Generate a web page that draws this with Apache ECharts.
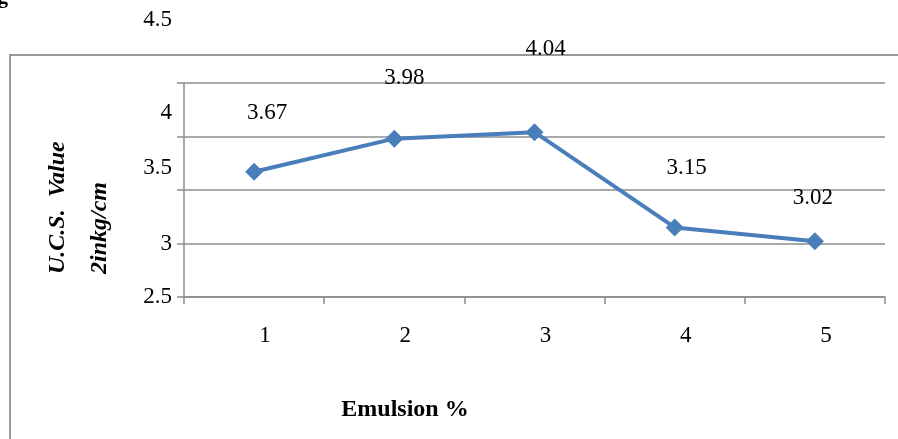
<!DOCTYPE html>
<html>
<head>
<meta charset="utf-8">
<script src="https://cdn.jsdelivr.net/npm/echarts@6/dist/echarts.min.js"></script>
<style>
  html, body { margin: 0; padding: 0; background: #fff; }
  #chart { width: 898px; height: 439px; }
</style>
</head>
<body>
<div id="chart"></div>
<script>
// Unconfined compressive strength against emulsion content
const emulsion = ['1', '2', '3', '4', '5'];
const ucsValues = [3.67, 3.98, 4.04, 3.15, 3.02];
const yTickLabels = ['2.5', '3', '3.5', '4', '4.5'];

// Label placement (styling only)
const labelOffsets = [[13, -33], [10, -35], [11, -58], [12, -34], [-2, -18]];
const tickLift = { '4.5': 126, '4': 48, '3.5': 44 };

const serif = '"Liberation Serif", "Times New Roman", serif';
const gray = '#8c8c8c';
const labelSize = 23;

const rich = {};
yTickLabels.forEach((t, i) => {
  rich['t' + i] = {
    fontFamily: serif, fontSize: labelSize, color: '#000',
    padding: [0, 0, tickLift[t] || 0, 0]
  };
});

const seriesData = ucsValues.map((v, i) => ({
  value: v,
  label: { offset: labelOffsets[i] }
}));

const chart = echarts.init(document.getElementById('chart'), null, { renderer: 'canvas' });
chart.setOption({
  animation: false,
  backgroundColor: '#fff',
  grid: { left: 184, right: 13, top: 83, bottom: 142, containLabel: false },
  xAxis: {
    type: 'category',
    data: emulsion,
    boundaryGap: true,
    axisLine: { lineStyle: { color: gray, width: 1.5 } },
    axisTick: { show: true, length: 7, lineStyle: { color: gray, width: 1.5 } },
    axisLabel: {
      fontFamily: serif, fontSize: labelSize, color: '#000', margin: 27,
      padding: [0, 0, 0, 22]
    },
    splitLine: { show: false }
  },
  yAxis: {
    type: 'value',
    min: 2.5, max: 4.5, interval: 0.5,
    axisLine: { show: true, lineStyle: { color: gray, width: 1.5 } },
    axisTick: { show: true, length: 7, lineStyle: { color: gray, width: 1.5 } },
    splitLine: { show: true, lineStyle: { color: gray, width: 1.5 } },
    axisLabel: {
      margin: 12,
      formatter: function (v) {
        const s = String(+v.toFixed(1));
        const i = yTickLabels.indexOf(s);
        return '{t' + i + '|' + s + '}';
      },
      rich: rich
    }
  },
  series: [{
    type: 'line',
    data: seriesData,
    symbol: 'diamond',
    symbolSize: 18,
    itemStyle: { color: '#4a7ebb' },
    lineStyle: { color: '#4a7ebb', width: 4 },
    label: {
      show: true, position: 'top', distance: 5,
      fontFamily: serif, fontSize: labelSize, color: '#000',
      formatter: p => p.value.toFixed(2)
    }
  }],
  graphic: [
    { type: 'polyline', silent: true,
      shape: { points: [[10, 439], [10, 55], [898, 55]] },
      style: { stroke: '#999', lineWidth: 2, fill: null } },
    { type: 'text', x: 58, y: 274, rotation: Math.PI / 2,
      style: { text: 'U.C.S.  Value', font: 'italic bold 24px ' + serif,
        fill: '#000', textAlign: 'left', textVerticalAlign: 'middle' } },
    { type: 'text', x: 100, y: 274, rotation: Math.PI / 2,
      style: { text: '2inkg/cm', font: 'italic bold 24px ' + serif,
        fill: '#000', textAlign: 'left', textVerticalAlign: 'middle' } },
    { type: 'text', x: 405, y: 410,
      style: { text: 'Emulsion %', font: 'bold 24px ' + serif,
        fill: '#000', textAlign: 'center', textVerticalAlign: 'middle' } },
    { type: 'text', x: -2, y: -12,
      style: { text: 'g', font: 'bold 20px ' + serif, fill: '#000',
        textAlign: 'left', textVerticalAlign: 'top' } }
  ]
});
</script>
</body>
</html>
